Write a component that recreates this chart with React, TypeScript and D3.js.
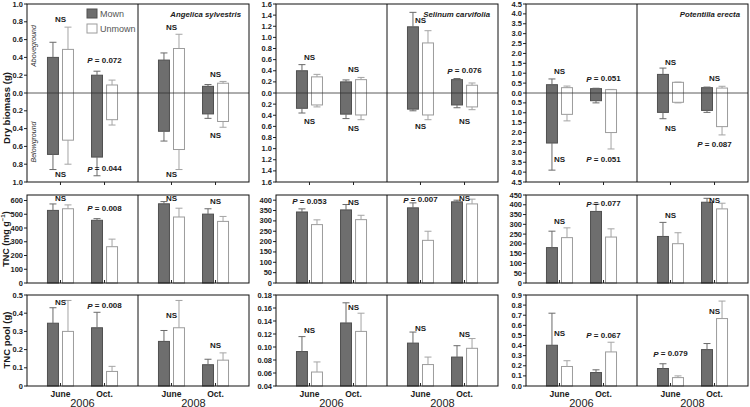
import React from "react";
import * as d3 from "d3";

const years = ["2006", "2008"];
const months = ["June", "Oct."];
const treatments = ["Mown", "Unmown"];
const species = ["Angelica sylvestris", "Selinum carvifolia", "Potentilla erecta"];

// order of values in every series: [2006 June, 2006 Oct., 2008 June, 2008 Oct.]
// ---- Dry biomass (g): aboveground (up) and belowground (down)
const angelicaAboveMown = [0.4, 0.2, 0.37, 0.075];
const angelicaAboveMownSE = [0.17, 0.045, 0.08, 0.02];
const angelicaAboveUnmown = [0.49, 0.09, 0.5, 0.11];
const angelicaAboveUnmownSE = [0.25, 0.055, 0.16, 0.02];
const angelicaBelowMown = [0.69, 0.72, 0.43, 0.235];
const angelicaBelowMownSE = [0.17, 0.21, 0.11, 0.05];
const angelicaBelowUnmown = [0.53, 0.3, 0.635, 0.32];
const angelicaBelowUnmownSE = [0.27, 0.06, 0.225, 0.065];

const selinumAboveMown = [0.4, 0.2, 1.19, 0.24];
const selinumAboveMownSE = [0.11, 0.035, 0.26, 0.02];
const selinumAboveUnmown = [0.29, 0.24, 0.9, 0.14];
const selinumAboveUnmownSE = [0.045, 0.04, 0.22, 0.04];
const selinumBelowMown = [0.275, 0.38, 0.29, 0.215];
const selinumBelowMownSE = [0.085, 0.08, 0.03, 0.05];
const selinumBelowUnmown = [0.215, 0.395, 0.395, 0.25];
const selinumBelowUnmownSE = [0.035, 0.085, 0.085, 0.05];

const potentillaAboveMown = [0.42, 0.22, 0.94, 0.27];
const potentillaAboveMownSE = [0.29, 0.02, 0.32, 0.03];
const potentillaAboveUnmown = [0.27, 0.17, 0.54, 0.25];
const potentillaAboveUnmownSE = [0.08, 0.01, 0.01, 0.09];
const potentillaBelowMown = [2.53, 0.39, 0.98, 0.88];
const potentillaBelowMownSE = [1.37, 0.11, 0.32, 0.1];
const potentillaBelowUnmown = [1.08, 2.0, 0.47, 1.7];
const potentillaBelowUnmownSE = [0.33, 0.83, 0.03, 0.42];

// ---- TNC (mg g-1)
const angelicaTncMown = [528, 456, 576, 501];
const angelicaTncMownSE = [47, 12, 16, 39];
const angelicaTncUnmown = [540, 264, 480, 448];
const angelicaTncUnmownSE = [28, 55, 64, 36];
const selinumTncMown = [343, 353, 363, 392];
const selinumTncMownSE = [15, 26, 24, 8];
const selinumTncUnmown = [282, 306, 206, 382];
const selinumTncUnmownSE = [23, 21, 44, 23];
const potentillaTncMown = [181, 366, 238, 413];
const potentillaTncMownSE = [84, 37, 72, 20];
const potentillaTncUnmown = [232, 235, 201, 379];
const potentillaTncUnmownSE = [50, 42, 56, 29];

// ---- TNC pool (g)
const angelicaPoolMown = [0.345, 0.32, 0.245, 0.117];
const angelicaPoolMownSE = [0.085, 0.085, 0.06, 0.03];
const angelicaPoolUnmown = [0.3, 0.08, 0.32, 0.142];
const angelicaPoolUnmownSE = [0.17, 0.028, 0.15, 0.04];
const selinumPoolMown = [0.093, 0.137, 0.106, 0.0845];
const selinumPoolMownSE = [0.023, 0.031, 0.017, 0.0175];
const selinumPoolUnmown = [0.0615, 0.124, 0.073, 0.098];
const selinumPoolUnmownSE = [0.0155, 0.028, 0.0115, 0.015];
const potentillaPoolMown = [0.403, 0.133, 0.173, 0.36];
const potentillaPoolMownSE = [0.317, 0.027, 0.047, 0.06];
const potentillaPoolUnmown = [0.193, 0.337, 0.083, 0.667];
const potentillaPoolUnmownSE = [0.057, 0.096, 0.017, 0.173];

// ---- significance labels (group index, value position, text)
const angelicaBiomassNotes = [
  { g: 0, v: 0.83, t: "NS" }, { g: 1, v: 0.37, t: "P = 0.072" },
  { g: 1, v: -0.85, t: "P = 0.044" }, { g: 0, v: -0.92, t: "NS" },
  { g: 2, v: 0.74, t: "NS" }, { g: 3, v: 0.21, t: "NS" },
  { g: 3, v: -0.48, t: "NS" }, { g: 2, v: -0.92, t: "NS" },
];
const selinumBiomassNotes = [
  { g: 0, v: 0.63, t: "NS" }, { g: 0, v: -0.52, t: "NS" },
  { g: 1, v: 0.43, t: "NS" }, { g: 1, v: -0.63, t: "NS" },
  { g: 2, v: 1.31, t: "NS" }, { g: 3, v: 0.4, t: "P = 0.076" },
  { g: 2, v: -0.61, t: "NS" }, { g: 3, v: -0.52, t: "NS" },
];
const potentillaBiomassNotes = [
  { g: 0, v: 1.11, t: "NS" }, { g: 1, v: 0.71, t: "P = 0.051" },
  { g: 0, v: -3.34, t: "NS" }, { g: 1, v: -3.34, t: "P = 0.051" },
  { g: 2, v: 1.52, t: "NS" }, { g: 3, v: 0.71, t: "NS" },
  { g: 2, v: -1.77, t: "NS" }, { g: 3, v: -2.58, t: "P = 0.087" },
];
const angelicaTncNotes = [
  { g: 0, v: 611, t: "NS" }, { g: 1, v: 545, t: "P = 0.008" },
  { g: 2, v: 618, t: "NS" }, { g: 3, v: 596, t: "NS" },
];
const selinumTncNotes = [
  { g: 0, v: 396, t: "P = 0.053" }, { g: 1, v: 391, t: "NS" },
  { g: 2, v: 401, t: "P = 0.007" }, { g: 3, v: 406, t: "NS" },
];
const potentillaTncNotes = [
  { g: 0, v: 312, t: "NS" }, { g: 1, v: 404, t: "P = 0.077" },
  { g: 2, v: 343, t: "NS" }, { g: 3, v: 424, t: "NS" },
];
const angelicaPoolNotes = [
  { g: 0, v: 0.46, t: "NS" }, { g: 1, v: 0.44, t: "P = 0.008" },
  { g: 2, v: 0.385, t: "NS" }, { g: 3, v: 0.225, t: "NS" },
];
const selinumPoolNotes = [
  { g: 0, v: 0.126, t: "NS" }, { g: 1, v: 0.1615, t: "NS" },
  { g: 2, v: 0.129, t: "NS" }, { g: 3, v: 0.12, t: "NS" },
];
const potentillaPoolNotes = [
  { g: 0, v: 0.52, t: "NS" }, { g: 1, v: 0.5, t: "P = 0.067" },
  { g: 2, v: 0.32, t: "P = 0.079" }, { g: 3, v: 0.74, t: "NS" },
];

// axis settings
const biomassMax = [1.0, 1.6, 4.5];
const biomassStep = [0.2, 0.2, 0.5];
const tncDomain = [[0, 640], [0, 425], [0, 450]];
const tncTickMax = [600, 400, 450];
const tncStep = [100, 50, 50];
const poolDomain = [[0, 0.5], [0.04, 0.18], [0, 0.9]];
const poolStep = [0.1, 0.02, 0.1];

const biomassData = [
  { above: [angelicaAboveMown, angelicaAboveUnmown], aboveSE: [angelicaAboveMownSE, angelicaAboveUnmownSE], below: [angelicaBelowMown, angelicaBelowUnmown], belowSE: [angelicaBelowMownSE, angelicaBelowUnmownSE], notes: angelicaBiomassNotes },
  { above: [selinumAboveMown, selinumAboveUnmown], aboveSE: [selinumAboveMownSE, selinumAboveUnmownSE], below: [selinumBelowMown, selinumBelowUnmown], belowSE: [selinumBelowMownSE, selinumBelowUnmownSE], notes: selinumBiomassNotes },
  { above: [potentillaAboveMown, potentillaAboveUnmown], aboveSE: [potentillaAboveMownSE, potentillaAboveUnmownSE], below: [potentillaBelowMown, potentillaBelowUnmown], belowSE: [potentillaBelowMownSE, potentillaBelowUnmownSE], notes: potentillaBiomassNotes },
];
const tncData = [
  { vals: [angelicaTncMown, angelicaTncUnmown], se: [angelicaTncMownSE, angelicaTncUnmownSE], notes: angelicaTncNotes },
  { vals: [selinumTncMown, selinumTncUnmown], se: [selinumTncMownSE, selinumTncUnmownSE], notes: selinumTncNotes },
  { vals: [potentillaTncMown, potentillaTncUnmown], se: [potentillaTncMownSE, potentillaTncUnmownSE], notes: potentillaTncNotes },
];
const poolData = [
  { vals: [angelicaPoolMown, angelicaPoolUnmown], se: [angelicaPoolMownSE, angelicaPoolUnmownSE], notes: angelicaPoolNotes },
  { vals: [selinumPoolMown, selinumPoolUnmown], se: [selinumPoolMownSE, selinumPoolUnmownSE], notes: selinumPoolNotes },
  { vals: [potentillaPoolMown, potentillaPoolUnmown], se: [potentillaPoolMownSE, potentillaPoolUnmownSE], notes: potentillaPoolNotes },
];

// layout
const W = 750;
const H = 407;
const colLeft = [27, 276, 526];
const colWidth = 222;
const rowBox = [
  { top: 4, bottom: 182 },
  { top: 195, bottom: 283 },
  { top: 295, bottom: 386 },
];
const FONT = "'Liberation Sans', Arial, sans-serif";
const MOWN_FILL = "#6e6e6e";
const MOWN_STROKE = "#505050";
const UNMOWN_STROKE = "#9c9c9c";
const MOWN_ERR = "#6a6a6a";
const UNMOWN_ERR = "#a4a4a4";

function ticksOf(min: number, max: number, step: number) {
  const n = Math.round((max - min) / step);
  return d3.range(n + 1).map((i) => +(min + i * step).toFixed(6));
}

function Note({ x, y, t }: { x: number; y: number; t: string }) {
  const isP = t.startsWith("P");
  return (
    <text x={x} y={y} textAnchor="middle" dominantBaseline="central" fontFamily={FONT} fontWeight="bold" fontSize={8} fill="#1a1a1a">
      {isP ? (
        <>
          <tspan fontStyle="italic">P</tspan>
          {t.slice(1)}
        </>
      ) : (
        t
      )}
    </text>
  );
}

function Column({ c }: { c: number }) {
  const L = colLeft[c];
  const R = L + colWidth;
  const mid = L + colWidth / 2;
  const xYear = d3.scaleBand().domain(years).range([L, R]).padding(0);
  const xMonth = (yr: string) =>
    d3.scalePoint().domain(months).range([xYear(yr)!, xYear(yr)! + xYear.bandwidth()]).padding(0.76);
  const groupX = (g: number) => xMonth(years[Math.floor(g / 2)])(months[g % 2])!;
  const xTreat = (g: number) => {
    const cx = groupX(g);
    return d3.scaleBand().domain(treatments).range([cx - 13, cx + 13]).paddingInner(0.27).paddingOuter(0);
  };
  const groups = d3.range(4);

  // ---- row 1
  const b = biomassData[c];
  const r1 = rowBox[0];
  const y1 = d3.scaleLinear().domain([-biomassMax[c], biomassMax[c]]).range([r1.bottom, r1.top]);
  const t1 = ticksOf(-biomassMax[c], biomassMax[c], biomassStep[c]);

  // ---- row 2
  const tn = tncData[c];
  const r2 = rowBox[1];
  const y2 = d3.scaleLinear().domain(tncDomain[c]).range([r2.bottom, r2.top]);
  const t2 = ticksOf(0, tncTickMax[c], tncStep[c]);

  // ---- row 3
  const p = poolData[c];
  const r3 = rowBox[2];
  const y3 = d3.scaleLinear().domain(poolDomain[c]).range([r3.bottom, r3.top]);
  const t3 = ticksOf(poolDomain[c][0], poolDomain[c][1], poolStep[c]);
  const fmt3 = (v: number) =>
    c === 0 ? (v === 0 ? "0" : d3.format(".1f")(v)) : c === 1 ? d3.format(".2f")(v) : d3.format(".1f")(v);

  const errBar = (key: string, x: number, ya: number, yb: number, color: string) => (
    <g key={key} stroke={color} strokeWidth={1}>
      <line x1={x} x2={x} y1={ya} y2={yb} />
      <line x1={x - 3.5} x2={x + 3.5} y1={yb} y2={yb} />
    </g>
  );

  const tickLabel = (key: string, y: number, s: string) => (
    <g key={key}>
      <line x1={L - 3} x2={L} y1={y} y2={y} stroke="#222" />
      <text x={L - 4} y={y} textAnchor="end" dominantBaseline="central" fontFamily={FONT} fontWeight="bold" fontSize={7.5} fill="#222">
        {s}
      </text>
    </g>
  );

  const simpleBars = (data: any, y: any, base: number, keyp: string) =>
    groups.map((g) =>
      treatments.map((tr, ti) => {
        const xs = xTreat(g);
        const x0 = xs(tr)!;
        const bw = xs.bandwidth();
        const v = data.vals[ti][g];
        const e = data.se[ti][g];
        return (
          <g key={`${keyp}-${g}-${ti}`}>
            <rect x={x0} y={y(v)} width={bw} height={y(base) - y(v)} fill={ti === 0 ? MOWN_FILL : "#fff"} stroke={ti === 0 ? MOWN_STROKE : UNMOWN_STROKE} strokeWidth={1} />
            {errBar("e", x0 + bw / 2, y(v), y(v + e), ti === 0 ? MOWN_ERR : UNMOWN_ERR)}
          </g>
        );
      })
    );

  return (
    <g>
      {/* Row 1 biomass */}
      {groups.map((g) =>
        treatments.map((tr, ti) => {
          const xs = xTreat(g);
          const x0 = xs(tr)!;
          const bw = xs.bandwidth();
          const a = b.above[ti][g];
          const ae = b.aboveSE[ti][g];
          const be = b.below[ti][g];
          const bse = b.belowSE[ti][g];
          const fill = ti === 0 ? MOWN_FILL : "#fff";
          const st = ti === 0 ? MOWN_STROKE : UNMOWN_STROKE;
          const ec = ti === 0 ? MOWN_ERR : UNMOWN_ERR;
          return (
            <g key={`b-${g}-${ti}`}>
              <rect x={x0} y={y1(a)} width={bw} height={y1(-be) - y1(a)} fill={fill} stroke={st} strokeWidth={1} />
              {errBar("ea", x0 + bw / 2, y1(a), y1(a + ae), ec)}
              {errBar("eb", x0 + bw / 2, y1(-be), y1(-(be + bse)), ec)}
            </g>
          );
        })
      )}
      <line x1={L} x2={R} y1={y1(0)} y2={y1(0)} stroke="#333" strokeWidth={0.8} />
      {t1.map((v, i) => tickLabel(`t1-${i}`, y1(v), d3.format(".1f")(Math.abs(v))))}
      {b.notes.map((n, i) => (
        <Note key={`n1-${i}`} x={groupX(n.g)} y={y1(n.v)} t={n.t} />
      ))}
      <rect x={L} y={r1.top} width={colWidth} height={r1.bottom - r1.top} fill="none" stroke="#111" strokeWidth={1} />
      <line x1={mid} x2={mid} y1={r1.top} y2={r1.bottom} stroke="#111" />
      {groups.map((g) => (
        <line key={`xt1-${g}`} x1={groupX(g)} x2={groupX(g)} y1={r1.bottom} y2={r1.bottom + 3} stroke="#222" />
      ))}
      <text x={R - 8} y={r1.top + 10} textAnchor="end" dominantBaseline="central" fontFamily={FONT} fontWeight="bold" fontStyle="italic" fontSize={7.8} fill="#1a1a1a">
        {species[c]}
      </text>

      {/* Row 2 TNC */}
      {simpleBars(tn, y2, tncDomain[c][0], "tn")}
      {t2.map((v, i) => tickLabel(`t2-${i}`, y2(v), d3.format("d")(v)))}
      {tn.notes.map((n, i) => (
        <Note key={`n2-${i}`} x={groupX(n.g)} y={y2(n.v)} t={n.t} />
      ))}
      <rect x={L} y={r2.top} width={colWidth} height={r2.bottom - r2.top} fill="none" stroke="#111" strokeWidth={1} />
      <line x1={mid} x2={mid} y1={r2.top} y2={r2.bottom} stroke="#111" />
      {groups.map((g) => (
        <line key={`xt2-${g}`} x1={groupX(g)} x2={groupX(g)} y1={r2.bottom} y2={r2.bottom - 3} stroke="#222" />
      ))}

      {/* Row 3 TNC pool */}
      {simpleBars(p, y3, poolDomain[c][0], "tp")}
      {t3.map((v, i) => tickLabel(`t3-${i}`, y3(v), fmt3(v)))}
      {p.notes.map((n, i) => (
        <Note key={`n3-${i}`} x={groupX(n.g)} y={y3(n.v)} t={n.t} />
      ))}
      <rect x={L} y={r3.top} width={colWidth} height={r3.bottom - r3.top} fill="none" stroke="#111" strokeWidth={1} />
      <line x1={mid} x2={mid} y1={r3.top} y2={r3.bottom} stroke="#111" />
      {groups.map((g) => (
        <line key={`xt3-${g}`} x1={groupX(g)} x2={groupX(g)} y1={r3.bottom} y2={r3.bottom - 3} stroke="#222" />
      ))}

      {/* x labels */}
      {groups.map((g) => (
        <text key={`ml-${g}`} x={groupX(g)} y={397} textAnchor="middle" fontFamily={FONT} fontWeight="bold" fontSize={8.5} fill="#1a1a1a">
          {months[g % 2]}
        </text>
      ))}
      {years.map((yr) => (
        <text key={`yl-${yr}`} x={xYear(yr)! + xYear.bandwidth() / 2} y={406.5} textAnchor="middle" fontFamily={FONT} fontSize={11} fill="#222">
          {yr}
        </text>
      ))}
    </g>
  );
}

export default function App() {
  const L0 = colLeft[0];
  return (
    <svg width={W} height={H} style={{ position: "absolute", left: 0, top: 0, display: "block", background: "#fff" }}>
      <rect x={0} y={0} width={W} height={H} fill="#fff" />
      {[0, 1, 2].map((c) => (
        <Column key={c} c={c} />
      ))}
      {/* legend */}
      <rect x={L0 + 60} y={9} width={10} height={9} fill={MOWN_FILL} stroke={MOWN_STROKE} />
      <text x={L0 + 73} y={14} dominantBaseline="central" fontFamily={FONT} fontSize={9} fill="#555">{treatments[0]}</text>
      <rect x={L0 + 60} y={24} width={10} height={9} fill="#fff" stroke={UNMOWN_STROKE} />
      <text x={L0 + 73} y={29} dominantBaseline="central" fontFamily={FONT} fontSize={9} fill="#555">{treatments[1]}</text>
      {/* above/below ground */}
      <text transform={`translate(${L0 + 6},46) rotate(-90)`} textAnchor="middle" dominantBaseline="central" fontFamily={FONT} fontStyle="italic" fontSize={7} fill="#333">Aboveground</text>
      <text transform={`translate(${L0 + 6},142) rotate(-90)`} textAnchor="middle" dominantBaseline="central" fontFamily={FONT} fontStyle="italic" fontSize={7} fill="#333">Belowground</text>
      {/* y titles */}
      <text transform="translate(6,108) rotate(-90)" textAnchor="middle" dominantBaseline="central" fontFamily={FONT} fontWeight="bold" fontSize={9.5} fill="#1a1a1a">Dry biomass (g)</text>
      <text transform="translate(6,239) rotate(-90)" textAnchor="middle" dominantBaseline="central" fontFamily={FONT} fontWeight="bold" fontSize={9} fill="#1a1a1a">
        TNC (mg g<tspan dy={-3} fontSize={6}>−1</tspan><tspan dy={3}>)</tspan>
      </text>
      <text transform="translate(6,340) rotate(-90)" textAnchor="middle" dominantBaseline="central" fontFamily={FONT} fontWeight="bold" fontSize={9.5} fill="#1a1a1a">TNC pool (g)</text>
    </svg>
  );
}
